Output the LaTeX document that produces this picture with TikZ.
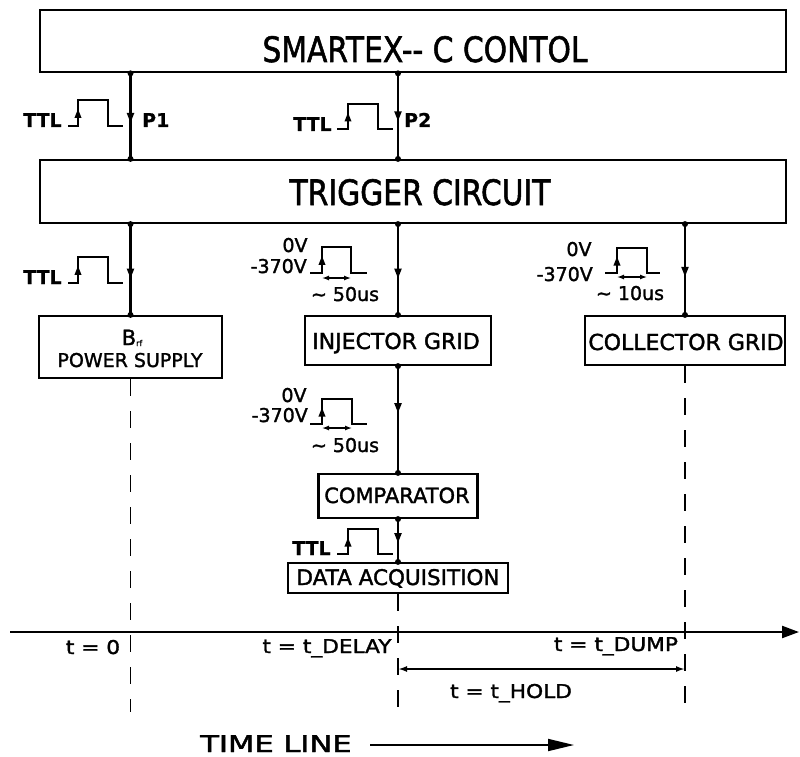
\documentclass[tikz,border=0pt]{standalone}
\usepackage{fontspec}
\setmainfont{DejaVu Sans}[FakeBold=1.6]
\newfontfamily\ttlfont[FakeBold=0.8]{DejaVu Sans Bold}
\usetikzlibrary{arrows.meta,decorations.markings}
\newcommand{\fs}[1]{\fontsize{#1}{#1}\selectfont}
\newcommand{\wide}[3]{{\fs{#1}\scalebox{#2}[1]{#3}}}
\tikzset{
  blk/.style={draw, line width=2.2pt, inner sep=0pt},
  wire/.style={line width=2.2pt},
  dashwire/.style={line width=1.8pt, dash pattern=on 17pt off 15pt},
  pulseline/.style={line width=1.7pt, line join=miter},
  midarrow/.style={postaction={decorate}, decoration={markings,
      mark=at position #1 with {\arrow{Triangle[length=10pt,width=7pt]}}}},
  risearrow/.style={postaction={decorate}, decoration={markings,
      mark=at position 0.66 with {\arrow{Triangle[length=9pt,width=6.5pt]}}}},
  widtharrow/.style={line width=1.3pt, {Latex[length=7pt,width=5pt]}-{Latex[length=7pt,width=5pt]}},
  lbl/.style={inner sep=0pt, anchor=base},
  ttl/.style={inner sep=0pt, anchor=base west, font=\fs{19}\ttlfont},
  volt/.style={inner sep=0pt, font=\fs{19}},
  boxtxt/.style={inner sep=0pt, anchor=base},
}
\newcommand{\pulse}[6]{%
  \draw[pulseline] (#1,#5) -- (#2,#5) -- (#2,#6) -- (#3,#6) -- (#3,#5) -- (#4,#5);
  \draw[pulseline, risearrow] (#2,#5) -- (#2,#6);}
\newcommand{\wpulse}[7]{%
  \pulse{#1}{#2}{#3}{#4}{#5}{#6}%
  \draw[widtharrow] (#2,#7) -- (#3,#7);}
\begin{document}
\begin{tikzpicture}[x=1pt, y=-1pt]
\useasboundingbox (0,0) rectangle (800,757);

% boxes
\node[blk, minimum width=746.5pt, minimum height=62.5pt] (top)  at (413,41) {};
\node[blk, minimum width=746.5pt, minimum height=63pt]   (trig) at (413,191.5) {};
\node[blk, minimum width=183pt, minimum height=62pt]     (ps)   at (130.5,347) {};
\node[blk, minimum width=186pt, minimum height=49pt]     (inj)  at (398,340.5) {};
\node[blk, minimum width=200pt, minimum height=49pt]     (col)  at (685,340.5) {};
\node[blk, minimum width=159pt, minimum height=44pt]     (comp) at (398,496) {};
\node[blk, minimum width=220pt, minimum height=30pt]     (daq)  at (398,578) {};

% box texts
\node[boxtxt] (ttop)  at (425,62)  {\wide{35}{0.85}{SMARTEX-\kern0pt- C CONTOL}};
\node[boxtxt] (ttrig) at (420,205) {\wide{35}{0.85}{TRIGGER CIRCUIT}};
\node[boxtxt] (tbrf)  at (132,345) {\fs{21}B\raisebox{-1pt}{\fs{8}rf}};
\node[boxtxt] (tps)   at (130,367) {\fs{19}POWER SUPPLY};
\node[boxtxt] (tinj)  at (396,349) {\fs{22}INJECTOR GRID};
\node[boxtxt] (tcol)  at (686,350) {\fs{22}COLLECTOR GRID};
\node[boxtxt] (tcomp) at (397,503) {\fs{21}COMPARATOR};
\node[boxtxt] (tdaq)  at (398,585) {\fs{21.5}DATA ACQUISITION};

% wires
\draw[wire, midarrow=0.58] (top.south -| ps.north) -- (trig.north -| ps.north);
\draw[wire, midarrow=0.56] (top.south -| inj.north) -- (trig.north -| inj.north);
\draw[wire, midarrow=0.6] (trig.south -| ps.north) -- (ps.north);
\draw[wire, midarrow=0.6] (trig.south -| inj.north) -- (inj.north);
\draw[wire, midarrow=0.58] (trig.south -| col.north) -- (col.north);
\draw[wire, midarrow=0.44] (inj.south) -- (comp.north);
\draw[wire, midarrow=0.56] (comp.south) -- (daq.north);

% junction dots
\foreach \p in {top.south -| ps.north, trig.north -| ps.north, top.south -| inj.north,
  trig.north -| inj.north, trig.south -| ps.north, ps.north, trig.south -| inj.north,
  inj.north, trig.south -| col.north, col.north, inj.south, comp.north, comp.south, daq.north}
  \fill (\p) circle (3pt);

% dashed time markers
\coordinate (tend) at (0,712);
\draw[dashwire] (ps.south) -- (ps.south |- tend);
\draw[dashwire] (daq.south) -- (daq.south |- tend);
\draw[dashwire] (col.south) -- (col.south |- tend);

% pulses
\pulse{68}{78}{108}{123}{126}{100}
\node[ttl] (ttl1) at (23,127) {TTL};
\node[ttl] (p1) at (142,127) {P1};
\pulse{337}{348}{378}{393}{129}{104}
\node[ttl] (ttl2) at (293,131) {TTL};
\node[ttl] (p2) at (404,127) {P2};
\pulse{68}{78}{108}{123}{283}{257}
\node[ttl] (ttl3) at (23,284) {TTL};

\wpulse{310}{322}{351}{367}{273}{247}{278}
\node[volt, anchor=base] (v1a) at (295,252) {0V};
\node[volt, anchor=base east] (v1b) at (307,273) {-370V};
\node[volt, anchor=base] (w1) at (345,301) {\textasciitilde{} 50us};

\wpulse{605}{617}{647}{660}{273}{248}{277}
\node[volt, anchor=base] (v2a) at (579,256) {0V};
\node[volt, anchor=base east] (v2b) at (593,281) {-370V};
\node[volt, anchor=base] (w2) at (630,300) {\textasciitilde{} 10us};

\wpulse{310}{322}{352}{367}{424}{399}{428}
\node[volt, anchor=base] (v3a) at (294,402) {0V};
\node[volt, anchor=base east] (v3b) at (308,422) {-370V};
\node[volt, anchor=base] (w3) at (345,452) {\textasciitilde{} 50us};

\pulse{337}{348}{378}{393}{554}{529}
\node[ttl] (ttl4) at (292,555) {TTL};

% time line
\coordinate (tl0) at (10,632);
\coordinate (tl1) at (799,632);
\draw[wire, -{Triangle[length=17pt,width=12pt]}] (tl0) -- (tl1);
\node[lbl] (t0) at (93,654) {\wide{19}{1.14}{t = 0}};
\node[lbl] (tdel) at (327,653) {\wide{19}{1.14}{t = t\_DELAY}};
\node[lbl] (tdump) at (616,651) {\wide{19}{1.14}{t = t\_DUMP}};
\coordinate (hy) at (0,669);
\draw[line width=1.8pt, {Latex[length=9pt,width=6pt]}-{Latex[length=9pt,width=6pt]}] (daq.south |- hy) -- (col.south |- hy);
\node[lbl] (thold) at (511,698) {\wide{19}{1.14}{t = t\_HOLD}};

\node[lbl] (tline) at (276,752) {\wide{23}{1.33}{TIME LINE}};
\coordinate (ta0) at (370,745);
\coordinate (ta1) at (574,745);
\draw[line width=1.8pt, -{Triangle[length=26pt,width=12pt]}] (ta0) -- (ta1);
\end{tikzpicture}
\end{document}
